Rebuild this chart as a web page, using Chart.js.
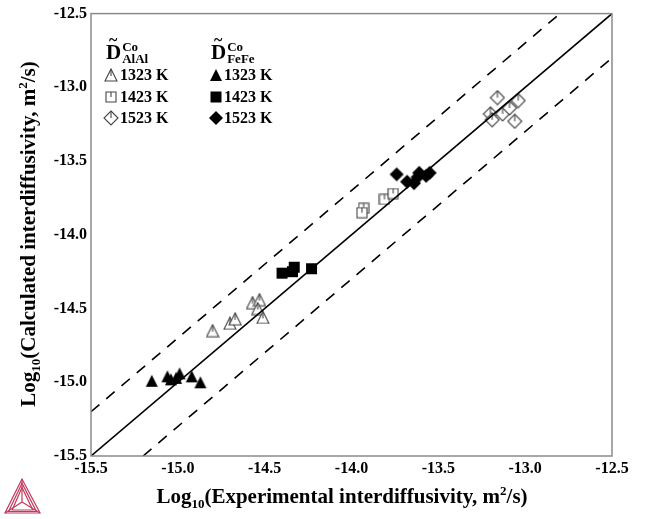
<!DOCTYPE html>
<html>
<head>
<meta charset="utf-8">
<script src="https://cdn.jsdelivr.net/npm/chart.js@4.4.1/dist/chart.umd.min.js"></script>
<style>
  html, body { margin: 0; padding: 0; background: #fff; }
  #wrap { width: 646px; height: 519px; }
</style>
</head>
<body>
<div id="wrap"><canvas id="chart" width="646" height="519"></canvas></div>
<script>
// Log10 experimental (x) vs calculated (y) interdiffusivity, m^2/s
const expAlAl1323 = [-14.80, -14.70, -14.67, -14.57, -14.53, -14.54, -14.51];
const calcAlAl1323 = [-14.65, -14.60, -14.57, -14.46, -14.44, -14.50, -14.56];
const expAlAl1423 = [-13.81, -13.76, -13.93, -13.94];
const calcAlAl1423 = [-13.76, -13.72, -13.82, -13.85];
const expAlAl1523 = [-13.16, -13.20, -13.19, -13.13, -13.09, -13.04, -13.06];
const calcAlAl1523 = [-13.07, -13.18, -13.22, -13.18, -13.14, -13.09, -13.23];

const expFeFe1323 = [-15.15, -15.06, -15.04, -15.01, -14.99, -14.92, -14.87];
const calcFeFe1323 = [-14.99, -14.96, -14.98, -14.97, -14.94, -14.96, -15.00];
const expFeFe1423 = [-14.40, -14.33, -14.34, -14.23];
const calcFeFe1423 = [-14.26, -14.22, -14.25, -14.23];
const expFeFe1523 = [-13.74, -13.68, -13.64, -13.61, -13.62, -13.55, -13.57];
const calcFeFe1523 = [-13.59, -13.64, -13.65, -13.58, -13.61, -13.58, -13.60];

// reference lines: y = x and y = x +/- 0.3
const parityX = [-15.5, -12.5];
const parityY = [-15.5, -12.5];
const upperX = [-15.5, -12.8];
const upperY = [-15.2, -12.5];
const lowerX = [-15.2, -12.5];
const lowerY = [-15.5, -12.8];

const axisMin = -15.5;
const axisMax = -12.5;
const tickStep = 0.5;

const tempLabels = ['1323 K', '1423 K', '1523 K'];

const SERIF = '"Liberation Serif", "Times New Roman", serif';

function pts(xs, ys) {
    return xs.map((x, i) => ({ x: x, y: ys[i] }));
}

// marker images: open symbols carry a short inner stroke like the original
function makeMarker(shape, size, filled) {
    const c = document.createElement('canvas');
    c.width = size + 2;
    c.height = size + 2;
    const g = c.getContext('2d');
    const m = (size + 2) / 2;
    const h = size / 2;
    g.beginPath();
    if (shape === 'tri') {
        g.moveTo(m, 1);
        g.lineTo(m + h, size + 1);
        g.lineTo(m - h, size + 1);
    } else if (shape === 'sq') {
        g.rect(m - h, m - h, size, size);
    } else {
        g.moveTo(m, 1);
        g.lineTo(m + h, m);
        g.lineTo(m, size + 1);
        g.lineTo(m - h, m);
    }
    g.closePath();
    if (filled) {
        g.fillStyle = '#000';
        g.fill();
    } else {
        g.fillStyle = '#fff';
        g.fill();
        g.strokeStyle = '#444';
        g.lineWidth = 1.1;
        g.stroke();
        g.beginPath();
        const top = shape === 'sq' ? m - h : 1;
        g.moveTo(m, top);
        g.lineTo(m, m + (shape === 'tri' ? 1 : 0));
        g.stroke();
    }
    return c;
}

const mk = {
    triOpen: makeMarker('tri', 12, false),
    sqOpen: makeMarker('sq', 10, false),
    diaOpen: makeMarker('dia', 14, false),
    triFill: makeMarker('tri', 12, true),
    sqFill: makeMarker('sq', 11, true),
    diaFill: makeMarker('dia', 14, true)
};

function scatterSet(xs, ys, img) {
    return { type: 'scatter', data: pts(xs, ys), pointStyle: img, pointRadius: 6, showLine: false };
}

function lineSet(xs, ys, dash) {
    return {
        type: 'line', data: pts(xs, ys), borderColor: '#000', borderWidth: 1.6,
        borderDash: dash, pointRadius: 0, fill: false, tension: 0
    };
}

function drawRich(ctx, parts, x, y, size) {
    const sm = Math.round(size * 0.62);
    let total = 0;
    parts.forEach(p => {
        ctx.font = 'bold ' + (p.s ? sm : size) + 'px ' + SERIF;
        p.w = ctx.measureText(p.t).width;
        total += p.w;
    });
    let cx = x - total / 2;
    parts.forEach(p => {
        ctx.font = 'bold ' + (p.s ? sm : size) + 'px ' + SERIF;
        const dy = p.s === 'sub' ? size * 0.26 : p.s === 'sup' ? -size * 0.4 : 0;
        ctx.fillText(p.t, cx, y + dy);
        cx += p.w;
    });
}

function drawDTilde(ctx, x, y, sup, sub) {
    ctx.font = 'bold 21px ' + SERIF;
    ctx.fillText('D', x, y);
    const w = ctx.measureText('D').width;
    ctx.font = 'bold 16px ' + SERIF;
    ctx.fillText('~', x + 3, y - 14);
    ctx.font = 'bold 13px ' + SERIF;
    ctx.fillText(sup, x + w + 1, y - 8);
    ctx.fillText(sub, x + w + 1, y + 4);
}

const decorPlugin = {
    id: 'decor',
    afterDraw(chart) {
        const ctx = chart.ctx;
        const a = chart.chartArea;
        ctx.save();
        // frame
        ctx.strokeStyle = '#8a8a8a';
        ctx.lineWidth = 1.5;
        ctx.strokeRect(a.left, a.top, a.right - a.left, a.bottom - a.top);

        ctx.fillStyle = '#000';
        ctx.textBaseline = 'alphabetic';
        ctx.textAlign = 'left';
        // axis titles
        drawRich(ctx, [
            { t: 'Log' }, { t: '10', s: 'sub' },
            { t: '(Experimental interdiffusivity, m' }, { t: '2', s: 'sup' }, { t: '/s)' }
        ], 342, 503, 21);
        ctx.save();
        ctx.translate(35, 234);
        ctx.rotate(-Math.PI / 2);
        drawRich(ctx, [
            { t: 'Log' }, { t: '10', s: 'sub' },
            { t: '(Calculated interdiffusivity, m' }, { t: '2', s: 'sup' }, { t: '/s)' }
        ], 0, 0, 21);
        ctx.restore();

        // legend
        drawDTilde(ctx, 106, 59, 'Co', 'AlAl');
        drawDTilde(ctx, 211, 59, 'Co', 'FeFe');
        const rowsY = [75, 97, 118];
        const openM = [mk.triOpen, mk.sqOpen, mk.diaOpen];
        const fillM = [mk.triFill, mk.sqFill, mk.diaFill];
        ctx.font = 'bold 16px ' + SERIF;
        ctx.textBaseline = 'middle';
        rowsY.forEach((ry, i) => {
            const o = openM[i], f = fillM[i];
            ctx.drawImage(o, 111 - o.width / 2, ry - o.height / 2);
            ctx.fillText(tempLabels[i], 120, ry + 1);
            ctx.drawImage(f, 216 - f.width / 2, ry - f.height / 2);
            ctx.fillText(tempLabels[i], 224, ry + 1);
        });

        // logo
        ctx.strokeStyle = '#c23a5e';
        ctx.lineWidth = 1.2;
        const A = [22, 479], L = [5, 513], R = [40, 513], C = [22, 502];
        [0, 3, 6].forEach(k => {
            ctx.beginPath();
            ctx.moveTo(A[0], A[1] + k * 1.4);
            ctx.lineTo(L[0] + k * 1.2, L[1] - k * 0.5);
            ctx.lineTo(R[0] - k * 1.2, R[1] - k * 0.5);
            ctx.closePath();
            ctx.stroke();
        });
        ctx.beginPath();
        ctx.moveTo(A[0], A[1]); ctx.lineTo(C[0], C[1]);
        ctx.moveTo(L[0], L[1]); ctx.lineTo(C[0], C[1]);
        ctx.moveTo(R[0], R[1]); ctx.lineTo(C[0], C[1]);
        ctx.stroke();
        ctx.restore();
    }
};

const tickFont = { family: SERIF, size: 16, weight: 'bold' };

new Chart(document.getElementById('chart'), {
    type: 'scatter',
    data: {
        datasets: [
            lineSet(parityX, parityY, []),
            lineSet(upperX, upperY, [11, 9]),
            lineSet(lowerX, lowerY, [11, 9]),
            scatterSet(expAlAl1323, calcAlAl1323, mk.triOpen),
            scatterSet(expAlAl1423, calcAlAl1423, mk.sqOpen),
            scatterSet(expAlAl1523, calcAlAl1523, mk.diaOpen),
            scatterSet(expFeFe1323, calcFeFe1323, mk.triFill),
            scatterSet(expFeFe1423, calcFeFe1423, mk.sqFill),
            scatterSet(expFeFe1523, calcFeFe1523, mk.diaFill)
        ]
    },
    options: {
        responsive: false,
        animation: false,
        layout: { padding: { left: 0, top: 13, right: 34, bottom: 0 } },
        plugins: { legend: { display: false }, tooltip: { enabled: false } },
        scales: {
            x: {
                type: 'linear', min: axisMin, max: axisMax,
                grid: { display: false, drawTicks: false },
                border: { display: false },
                ticks: { stepSize: tickStep, color: '#000', font: tickFont, padding: 3,
                         callback: v => v.toFixed(1) },
                afterFit: s => { s.height = 63; }
            },
            y: {
                type: 'linear', min: axisMin, max: axisMax,
                grid: { display: false, drawTicks: false },
                border: { display: false },
                ticks: { stepSize: tickStep, color: '#000', font: tickFont, padding: 4,
                         callback: v => v.toFixed(1) },
                afterFit: s => { s.width = 91; }
            }
        }
    },
    plugins: [decorPlugin]
});
</script>
</body>
</html>
